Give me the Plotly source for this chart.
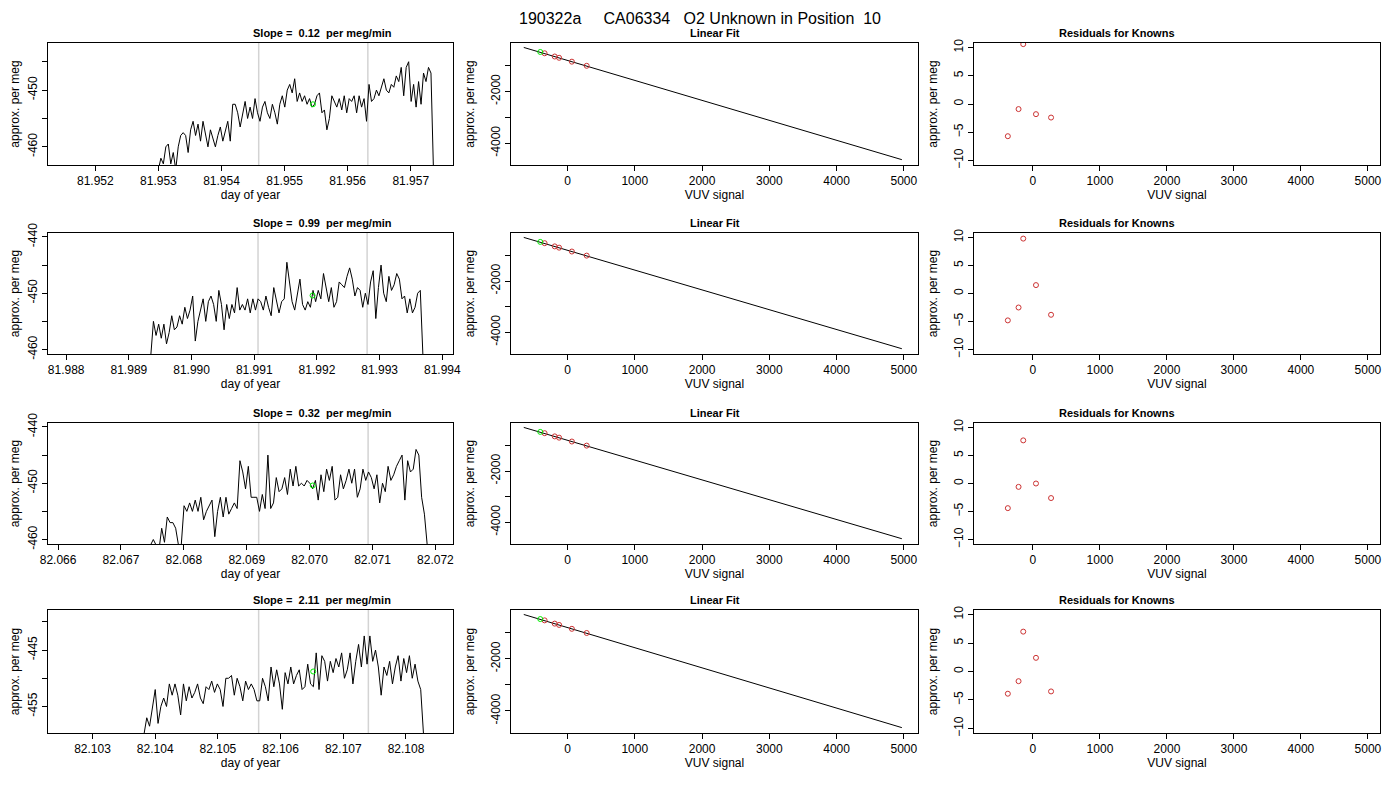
import numpy as np
import plotly.graph_objects as go

# ---- time series panels (approx. per meg vs day of year) ----
ts_start = [81.95300, 81.98935, 82.06747, 82.10382]
ts_end = [81.95736, 81.99369, 82.07187, 82.10828]
ts_vals = [
    [-464,-462,-463,-460,-459.5,-463,-461,-464,-460,-458,-457.5,-458,-461,-457,-455.5,-458,-456,-459,-455.5,-458,-460,-457,-458.5,-460,-458,-456.5,-459,-457,-455.5,-459,
     -452.5,-452.5,-454,-456.5,-454,-452,-455,-453,-455,-451.5,-454,-455.5,-453,-452,-454,-455,-452.5,-454,-456,-452.5,-451,-453,-450,-449,-450.5,-448,-452,-450.5,-452,-451,
     -452.5,-451.5,-453,-452.5,-451,-450.5,-454,-453.5,-457,-455,-451,-452,-453,-451.5,-453.5,-451,-454,-451.5,-452,-451,-454,-451,-453,-451.5,-455.5,-449,-452,-451.5,-450,-451,
     -449.5,-448,-450,-450.5,-449,-449.5,-447.5,-448.5,-446,-451,-446,-445,-452,-449,-453,-448.5,-452.5,-447,-448.5,-446,-447,-464],
    [-461,-455,-457.5,-455.5,-458,-455.5,-459,-457,-454,-456.5,-456,-454,-455.5,-452.5,-454.5,-453,-450.5,-458.5,-455,-453,-451,-455,-451.5,-450.5,-452,-455,-449.5,-452,-456.5,-452,
     -454.5,-452,-453.5,-449,-453,-452,-453,-451,-453.5,-451,-453,-451,-451.5,-453,-450.5,-452.5,-454,-449,-451,-453.5,-451.5,-451,-444.5,-448,-451.5,-453,-450,-447.5,-452,-453,
     -451.5,-452.5,-449.5,-451.5,-449.5,-451,-446.5,-449,-451.5,-449,-452.5,-451.5,-448,-448.5,-449,-447,-445.5,-447.5,-450.5,-449,-449.5,-452.5,-450,-452,-448,-446,-454.5,-449,
     -445,-450,-451.5,-447,-449.5,-448.5,-446.5,-447.5,-451,-450.5,-453.5,-451,-453.5,-452.5,-450,-449.5,-461],
    [-461,-460,-461,-462,-458,-460.5,-456,-457,-457,-458,-461,-461,-454,-455,-453.5,-455,-453,-455,-452.5,-456.5,-455,-454,-453,-459.5,-455,-452.5,-456,-452.5,-455.5,-454.5,
     -453.5,-454.5,-446,-448,-451,-447,-452.5,-452.5,-452.5,-455,-452,-454.5,-445,-454.5,-453.5,-449,-451.5,-451,-449,-452,-447.5,-450.5,-447,-450.5,-450,-450.5,-449.5,-450,
     -451,-449.5,-453,-448.5,-451.5,-447.5,-449.5,-447,-453,-452.5,-448.5,-451,-449.5,-447.5,-450,-447.5,-452.5,-451,-447.5,-449.5,-448,-449,-451,-448.5,-453.5,-450,-451.5,-447,
     -449.5,-448.5,-447,-446,-445,-453,-446,-448,-447.5,-444,-445,-452.5,-455.5,-461],
    [-460,-457,-458.5,-455.5,-452,-458,-455,-453.5,-455,-451,-453,-451,-453,-456.5,-451,-454,-451.5,-453.5,-452.5,-451,-453.5,-454.5,-451.5,-452,-450.5,-452.5,-451,-452,-455,-450,
     -450,-449.5,-453,-450,-451.5,-454,-450.5,-452,-451,-452,-454,-454,-450,-451.5,-454,-448,-451.5,-448.5,-451,-455.5,-449,-451,-448,-451,-449.5,-448.5,-452,-451.5,-447.5,-451,
     -451.5,-445.5,-452,-446,-447,-450.5,-447,-449,-446.5,-448,-445.5,-450,-448.5,-445.5,-451,-447,-444,-448,-442.5,-447.5,-442.5,-447,-445,-448,-453,-448,-449.5,-447,-451,-448,
     -446,-450.5,-446.5,-449,-446,-450,-447.5,-450.5,-452,-460],
]
ts_slopes = ["0.12", "0.99", "0.32", "2.11"]
ts_xrange = [[81.95125, 81.95767], [81.98771, 81.99417], [82.06584, 82.07228], [82.10229, 82.10875]]
ts_yrange = [[-463.2, -441.7], [-460.8, -439.3], [-460.8, -439.3], [-459.7, -437.9]]
ts_xticks = [[81.952, 81.953, 81.954, 81.955, 81.956, 81.957],
             [81.988, 81.989, 81.990, 81.991, 81.992, 81.993, 81.994],
             [82.066, 82.067, 82.068, 82.069, 82.070, 82.071, 82.072],
             [82.103, 82.104, 82.105, 82.106, 82.107, 82.108]]
ts_yticks = [[-460, -455, -450, -445], [-460, -455, -450, -445, -440],
             [-460, -455, -450, -445, -440], [-455, -450, -445, -440]]
ts_ylabels = [["-460", "", "-450", ""], ["-460", "", "-450", "", "-440"],
              ["-460", "", "-450", "", "-440"], ["-455", "", "-445", ""]]
ts_vlines = [[81.95459, 81.95632], [81.99106, 81.99280], [82.06919, 82.07093], [82.10565, 82.10740]]
ts_green_x = [81.95545, 81.99193, 82.07005, 82.10652]
ts_green_y = [-452.5, -450.4, -450.4, -448.8]

# ---- linear fit (same in all rows) ----
fit_line_x = [-650, 4970]
fit_line_y = [-300, -4640]
known_x = [-340, -190, -125, 65, 285]
known_y = [-525, -650, -700, -850, -1010]
unk_x = [-405]
unk_y = [-475]

# ---- residuals ----
res_x = [-375, -215, -145, 45, 270]
res_y = [[-5.7, -0.9, 10.6, -1.8, -2.4],
         [-4.8, -2.5, 9.8, 1.5, -3.8],
         [-4.4, -0.6, 7.7, 0.0, -2.6],
         [-3.9, -1.7, 7.0, 2.4, -3.5]]

W, H = 1400, 800
OFF = 8  # page body margin in the browser
col_px = [(48, 453), (511, 918), (974, 1380)]
row_px = [(43, 165), (233, 354), (423, 544), (610, 733)]

FONT = "Liberation Sans, Arial, sans-serif"
fig = go.Figure()
layout = {}
annotations = []

def axis_style(**kw):
    d = dict(showline=True, linecolor="black", linewidth=1, mirror=True, ticks="outside",
             ticklen=5, tickcolor="black", showgrid=False, zeroline=False, automargin=False,
             tickfont=dict(size=12, color="black"), title_font=dict(size=12, color="black"),
             title_standoff=0)
    d.update(kw)
    return d

n = 0
for r in range(4):
    y0, y1 = row_px[r][0] - OFF, row_px[r][1] - OFF
    ydom = [1 - y1 / H, 1 - y0 / H]
    for c in range(3):
        n += 1
        xa = "x" if n == 1 else f"x{n}"
        ya = "y" if n == 1 else f"y{n}"
        x0, x1 = col_px[c][0] - OFF, col_px[c][1] - OFF
        xdom = [x0 / W, x1 / W]
        if c == 0:
            xs = np.linspace(ts_start[r], ts_end[r], len(ts_vals[r]))
            for v in ts_vlines[r]:
                fig.add_trace(go.Scatter(x=[v, v], y=ts_yrange[r], mode="lines",
                                         line=dict(color="#d3d3d3", width=1.5),
                                         xaxis=xa, yaxis=ya, showlegend=False))
            fig.add_trace(go.Scatter(x=xs, y=ts_vals[r], mode="lines",
                                     line=dict(color="black", width=1),
                                     xaxis=xa, yaxis=ya, showlegend=False))
            fig.add_trace(go.Scatter(x=[ts_green_x[r]], y=[ts_green_y[r]], mode="markers",
                                     marker=dict(symbol="circle-open", size=5, color="#00ee00"),
                                     xaxis=xa, yaxis=ya, showlegend=False))
            xax = axis_style(domain=xdom, range=ts_xrange[r], tickvals=ts_xticks[r],
                             ticktext=[f"{t:.3f}" for t in ts_xticks[r]],
                             title_text="day of year", anchor=ya)
            yax = axis_style(domain=ydom, range=ts_yrange[r], tickvals=ts_yticks[r],
                             ticktext=ts_ylabels[r], tickangle=-90, title_standoff=12,
                             title_text="approx. per meg", anchor=xa)
            ttl = f"Slope =  {ts_slopes[r]}  per meg/min"
        elif c == 1:
            fig.add_trace(go.Scatter(x=fit_line_x, y=fit_line_y, mode="lines",
                                     line=dict(color="black", width=1),
                                     xaxis=xa, yaxis=ya, showlegend=False))
            fig.add_trace(go.Scatter(x=known_x, y=known_y, mode="markers",
                                     marker=dict(symbol="circle-open", size=5, color="#cc3333"),
                                     xaxis=xa, yaxis=ya, showlegend=False))
            fig.add_trace(go.Scatter(x=unk_x, y=unk_y, mode="markers",
                                     marker=dict(symbol="circle-open", size=5, color="#00ee00"),
                                     xaxis=xa, yaxis=ya, showlegend=False))
            xax = axis_style(domain=xdom, range=[-840, 5210],
                             tickvals=[0, 1000, 2000, 3000, 4000, 5000],
                             title_text="VUV signal", anchor=ya)
            yax = axis_style(domain=ydom, range=[-4846, -128],
                             tickvals=[-4000, -3000, -2000, -1000],
                             ticktext=["-4000", "", "-2000", ""], tickangle=-90, title_standoff=12,
                             title_text="approx. per meg", anchor=xa)
            ttl = "Linear Fit"
        else:
            fig.add_trace(go.Scatter(x=res_x, y=res_y[r], mode="markers",
                                     marker=dict(symbol="circle-open", size=5, color="#cc3333"),
                                     xaxis=xa, yaxis=ya, showlegend=False))
            xax = axis_style(domain=xdom, range=[-880, 5180],
                             tickvals=[0, 1000, 2000, 3000, 4000, 5000],
                             title_text="VUV signal", anchor=ya)
            yax = axis_style(domain=ydom, range=[-10.8, 10.8],
                             tickvals=[-10, -5, 0, 5, 10], tickangle=-90, title_standoff=12,
                             title_text="approx. per meg", anchor=xa)
            ttl = "Residuals for Knowns"
        layout["xaxis" if n == 1 else f"xaxis{n}"] = xax
        layout["yaxis" if n == 1 else f"yaxis{n}"] = yax
        annotations.append(dict(text=f"<b>{ttl}</b>", x=(x0 + x1) / 2 / W, y=1 - (y0 - 10) / H,
                                xref="paper", yref="paper", showarrow=False, yanchor="middle",
                                font=dict(size=11, color="black")))

annotations.append(dict(text="190322a     CA06334   O2 Unknown in Position  10",
                        x=(700 - OFF) / W, y=1, xref="paper", yref="paper",
                        showarrow=False, yanchor="top", font=dict(size=16, color="black")))

fig.update_layout(**layout)
fig.update_layout(annotations=annotations, width=W, height=H,
                  margin=dict(l=0, r=0, t=0, b=0, autoexpand=False), plot_bgcolor="white",
                  paper_bgcolor="white", font=dict(family=FONT, color="black"))
fig.write_html("out.html")
